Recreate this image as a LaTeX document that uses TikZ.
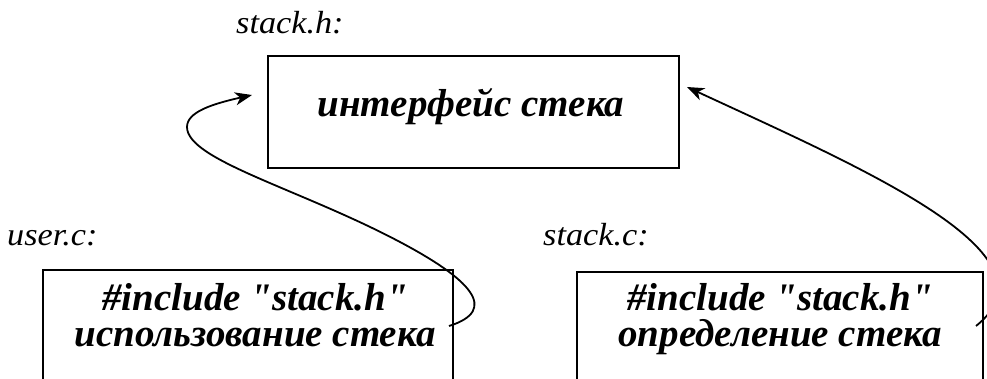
\documentclass[tikz,border=0pt]{standalone}
\usepackage{fontspec}
\setmainfont{Liberation Serif}
\newfontfamily\lblfamily{Liberation Serif}[FakeStretch=1.07]
\newfontfamily\txtfamily{Liberation Serif}
\usetikzlibrary{arrows.meta}
\tikzset{
  filebox/.style={draw, line width=2pt, inner sep=0pt},
  boxtxt/.style={font=\txtfamily\bfseries\itshape\fontsize{39}{36}\selectfont, anchor=base, inner sep=0pt, align=center},
  lbl/.style={font=\lblfamily\itshape\fontsize{32}{36}\selectfont, anchor=base west, inner sep=0pt},
  conn/.style={line width=1.8pt, -{Stealth[length=17pt, width=13pt, inset=5pt]}}
}
\begin{document}
\begin{tikzpicture}[x=1pt, y=-1pt]
\useasboundingbox (0,0) rectangle (987,378);
\clip (0,0) rectangle (987,378);
% boxes
\node[filebox, minimum width=411pt, minimum height=112pt] (hbox) at (473.5,112) {};
\node[filebox, minimum width=410pt, minimum height=130pt] (ubox) at (248,335) {};
\node[filebox, minimum width=406pt, minimum height=130pt] (sbox) at (780,337) {};
% labels
\node[lbl] (hlbl) at (236,33) {stack.h:};
\node[lbl] (ulbl) at (7,245) {user.c:};
\node[lbl] (slbl) at (543,245) {stack.c:};
% box texts
\node[boxtxt] (htxt) at (471,116) {интерфейс стека};
\node[boxtxt] (utxt) at (255,346) {\#include "stack.h"\\использование стека};
\node[boxtxt] (stxt) at (780,346) {\#include "stack.h"\\определение стека};
% connectors
\coordinate (ustart) at ([shift={(-5,57)}]ubox.north east);
\coordinate (uend) at ([shift={(-15,-17)}]hbox.west);
\coordinate (sstart) at ([shift={(-8,55)}]sbox.north east);
\coordinate (send) at ([shift={(7,-25)}]hbox.east);
\draw[conn] (ustart) .. controls (500,310) and (470,279) .. (400,242)
  .. controls (300,189) and (187,160) .. (187,127)
  .. controls (187,112) and (212,104) .. (uend);
\draw[conn] (sstart) .. controls (1065,255) and (866,170) .. (send);
\end{tikzpicture}
\end{document}
